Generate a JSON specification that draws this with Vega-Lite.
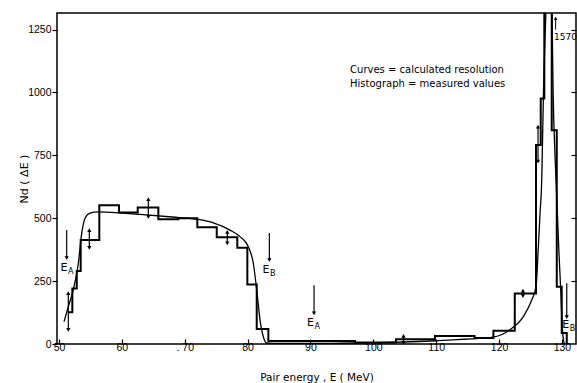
{
  "$schema": "https://vega.github.io/schema/vega-lite/v6.json",
  "width": 519,
  "height": 331,
  "autosize": {"type": "none"},
  "padding": {"left": 57, "top": 13, "right": 1, "bottom": 39},
  "background": "white",
  "config": {
    "view": {"stroke": "black", "strokeWidth": 1.5},
    "font": "Liberation Sans",
    "axis": {"grid": false, "domain": false, "labelColor": "black", "titleColor": "black", "tickColor": "black", "labelFont": "Liberation Sans", "titleFont": "DejaVu Sans", "titleFontWeight": "normal", "tickWidth": 1.2, "labelFontSize": 10.5, "titleFontSize": 10.5}
  },
  "datasets": {
    "hist": [
      {"E": 51.48, "N": 126}, {"E": 52.12, "N": 221}, {"E": 52.82, "N": 290}, {"E": 53.45, "N": 413},
      {"E": 56.41, "N": 552}, {"E": 59.54, "N": 523}, {"E": 62.52, "N": 543}, {"E": 65.8, "N": 496},
      {"E": 68.98, "N": 500}, {"E": 72.0, "N": 464}, {"E": 75.09, "N": 424}, {"E": 78.36, "N": 383},
      {"E": 79.96, "N": 237}, {"E": 81.45, "N": 60}, {"E": 83.3, "N": 12}, {"E": 97.1, "N": 6},
      {"E": 103.6, "N": 19}, {"E": 109.8, "N": 32}, {"E": 116.1, "N": 24}, {"E": 119.1, "N": 53},
      {"E": 122.5, "N": 201}, {"E": 125.88, "N": 791}, {"E": 126.63, "N": 976}, {"E": 127.2, "N": 1570},
      {"E": 128.38, "N": 850}, {"E": 129.18, "N": 228}, {"E": 129.97, "N": 44}, {"E": 130.77, "N": 0}
    ],
    "curve": [
      {"E": 50.8, "N": 89}, {"E": 51.5, "N": 150}, {"E": 52.27, "N": 215}, {"E": 53.07, "N": 320},
      {"E": 53.61, "N": 440}, {"E": 54.14, "N": 500}, {"E": 54.93, "N": 520}, {"E": 56.25, "N": 525},
      {"E": 62.89, "N": 515}, {"E": 68.0, "N": 505}, {"E": 71.91, "N": 496}, {"E": 74.55, "N": 482},
      {"E": 77.2, "N": 453}, {"E": 78.79, "N": 427}, {"E": 80.11, "N": 387}, {"E": 80.91, "N": 321},
      {"E": 81.45, "N": 215}, {"E": 81.98, "N": 95}, {"E": 82.5, "N": 29}, {"E": 83.04, "N": 4},
      {"E": 85, "N": 2}, {"E": 90, "N": 2}, {"E": 95, "N": 3}, {"E": 100, "N": 5}, {"E": 105, "N": 8},
      {"E": 110.1, "N": 13}, {"E": 115.4, "N": 20}, {"E": 119, "N": 27}, {"E": 121.7, "N": 56},
      {"E": 123.86, "N": 109}, {"E": 125.2, "N": 175}, {"E": 125.88, "N": 228}, {"E": 126.25, "N": 387},
      {"E": 126.52, "N": 520}, {"E": 126.79, "N": 652}, {"E": 127.04, "N": 970}, {"E": 127.47, "N": 1330},
      {"E": 127.9, "N": 1600}, {"E": 128.4, "N": 1350}, {"E": 128.6, "N": 1000}, {"E": 128.9, "N": 750},
      {"E": 129.2, "N": 570}, {"E": 129.5, "N": 380}, {"E": 129.8, "N": 220}, {"E": 130.1, "N": 50},
      {"E": 130.4, "N": 0}
    ],
    "errs": [
      {"E": 51.48, "lo": 56, "hi": 202}, {"E": 54.82, "lo": 382, "hi": 453}, {"E": 64.21, "lo": 505, "hi": 576},
      {"E": 76.77, "lo": 400, "hi": 446}, {"E": 104.8, "lo": 5, "hi": 32}, {"E": 123.8, "lo": 190, "hi": 212},
      {"E": 126.2, "lo": 725, "hi": 864}
    ],
    "downs": [
      {"E": 51.22, "lo": 342, "hi": 453}, {"E": 83.46, "lo": 334, "hi": 441},
      {"E": 90.57, "lo": 122, "hi": 234}, {"E": 130.77, "lo": 107, "hi": 242}
    ],
    "ups": [{"E": 129.0, "lo": 1250, "hi": 1295}],
    "elabels": [
      {"E": 50.8, "N": 302, "s": "A"}, {"E": 82.93, "N": 294, "s": "B"},
      {"E": 90.0, "N": 83, "s": "A"}, {"E": 130.6, "N": 75, "s": "B"}
    ],
    "notes": [
      {"E": 96.3, "N": 1089, "t": "Curves = calculated  resolution"},
      {"E": 96.3, "N": 1035, "t": "Histograph = measured  values"}
    ],
    "peak": [
      {"E": 128.75, "N": 1220, "t": "1570"}
    ]
  },
  "layer": [
    {
      "data": {"name": "hist"},
      "mark": {"type": "line", "interpolate": "step-after", "color": "black", "strokeWidth": 2, "clip": true},
      "encoding": {
        "x": {"field": "E", "type": "quantitative", "scale": {"domain": [49.68, 132.24], "nice": false, "zero": false},
          "axis": {"values": [50, 60, 70, 80, 90, 100, 110, 120, 130], "tickSize": -5, "labelPadding": 3, "title": "Pair  energy ,  E  ( MeV)", "titlePadding": 20, "labelExpr": "datum.value == 70 ? '. 70' : datum.label"}},
        "y": {"field": "N", "type": "quantitative", "scale": {"domain": [0, 1316], "nice": false},
          "axis": {"orient": "left", "values": [0, 250, 500, 750, 1000, 1250], "tickSize": 5, "labelPadding": 1, "title": "Nd  ( ΔE )", "titleFontSize": 11, "titlePadding": -2, "format": "d"}}
      }
    },
    {
      "data": {"name": "curve"},
      "mark": {"type": "line", "interpolate": "monotone", "color": "black", "strokeWidth": 1.3, "clip": true},
      "encoding": {
        "x": {"field": "E", "type": "quantitative"},
        "y": {"field": "N", "type": "quantitative",
          "axis": {"orient": "right", "values": [250, 500, 750, 1000, 1250], "tickSize": -5, "labels": false, "title": null}}
      }
    },
    {
      "data": {"name": "errs"},
      "mark": {"type": "rule", "color": "black", "strokeWidth": 1.2},
      "encoding": {"x": {"field": "E", "type": "quantitative"}, "y": {"field": "lo", "type": "quantitative", "axis": null}, "y2": {"field": "hi"}}
    },
    {
      "data": {"name": "errs"},
      "mark": {"type": "point", "shape": "triangle-up", "filled": true, "color": "black", "size": 18, "opacity": 1},
      "encoding": {"x": {"field": "E", "type": "quantitative"}, "y": {"field": "hi", "type": "quantitative", "axis": null}}
    },
    {
      "data": {"name": "errs"},
      "mark": {"type": "point", "shape": "triangle-down", "filled": true, "color": "black", "size": 18, "opacity": 1},
      "encoding": {"x": {"field": "E", "type": "quantitative"}, "y": {"field": "lo", "type": "quantitative", "axis": null}}
    },
    {
      "data": {"name": "downs"},
      "mark": {"type": "rule", "color": "black", "strokeWidth": 1.2},
      "encoding": {"x": {"field": "E", "type": "quantitative"}, "y": {"field": "lo", "type": "quantitative", "axis": null}, "y2": {"field": "hi"}}
    },
    {
      "data": {"name": "downs"},
      "mark": {"type": "point", "shape": "triangle-down", "filled": true, "color": "black", "size": 18, "opacity": 1},
      "encoding": {"x": {"field": "E", "type": "quantitative"}, "y": {"field": "lo", "type": "quantitative", "axis": null}}
    },
    {
      "data": {"name": "ups"},
      "mark": {"type": "rule", "color": "black", "strokeWidth": 1},
      "encoding": {"x": {"field": "E", "type": "quantitative"}, "y": {"field": "lo", "type": "quantitative", "axis": null}, "y2": {"field": "hi"}}
    },
    {
      "data": {"name": "ups"},
      "mark": {"type": "point", "shape": "triangle-up", "filled": true, "color": "black", "size": 14, "opacity": 1},
      "encoding": {"x": {"field": "E", "type": "quantitative"}, "y": {"field": "hi", "type": "quantitative", "axis": null}}
    },
    {
      "data": {"name": "elabels"},
      "mark": {"type": "text", "font": "DejaVu Sans", "fontSize": 11, "color": "black", "align": "center", "baseline": "middle"},
      "encoding": {"x": {"field": "E", "type": "quantitative"}, "y": {"field": "N", "type": "quantitative", "axis": null}, "text": {"value": "E"}}
    },
    {
      "data": {"name": "elabels"},
      "mark": {"type": "text", "font": "DejaVu Sans", "fontSize": 8, "color": "black", "align": "left", "baseline": "middle", "dx": 4, "dy": 4},
      "encoding": {"x": {"field": "E", "type": "quantitative"}, "y": {"field": "N", "type": "quantitative", "axis": null}, "text": {"field": "s"}}
    },
    {
      "data": {"name": "notes"},
      "mark": {"type": "text", "font": "DejaVu Sans", "fontSize": 10, "color": "black", "align": "left", "baseline": "middle"},
      "encoding": {"x": {"field": "E", "type": "quantitative"}, "y": {"field": "N", "type": "quantitative", "axis": null}, "text": {"field": "t"}}
    },
    {
      "data": {"name": "peak"},
      "mark": {"type": "text", "font": "DejaVu Sans", "fontSize": 9, "color": "black", "align": "left", "baseline": "middle"},
      "encoding": {"x": {"field": "E", "type": "quantitative"}, "y": {"field": "N", "type": "quantitative", "axis": null}, "text": {"field": "t"}}
    }
  ],
  "resolve": {"axis": {"y": "independent"}}
}
